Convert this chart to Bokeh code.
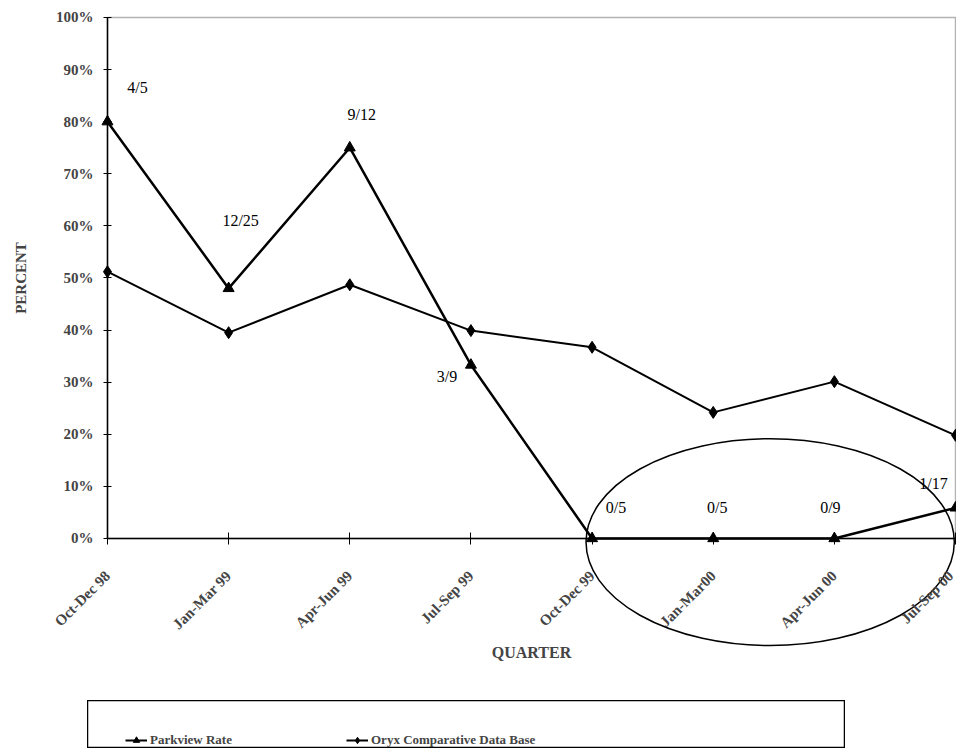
import math
from bokeh.plotting import figure
from bokeh.models import (ColumnDataSource, Range1d, LinearAxis, FixedTicker,
                          NumeralTickFormatter, LabelSet, BoxAnnotation, Legend,
                          LegendItem, Spacer)
from bokeh.layouts import column, row
from bokeh.core.properties import value
from bokeh.embed import file_html
from bokeh.resources import INLINE

# ---------------- data ----------------
quarters = ["Oct-Dec 98", "Jan-Mar 99", "Apr-Jun 99", "Jul-Sep 99",
            "Oct-Dec 99", "Jan-Mar00", "Apr-Jun 00", "Jul-Sep 00"]
quarter_index = list(range(len(quarters)))
parkview_rate = [0.80, 0.48, 0.75, 0.333, 0.0, 0.0, 0.0, 0.0588]
oryx_rate = [0.512, 0.395, 0.487, 0.399, 0.367, 0.242, 0.301, 0.198]
parkview_counts = ["4/5", "12/25", "9/12", "3/9", "0/5", "0/5", "0/9", "1/17"]
percent_ticks = [0.0, 0.1, 0.2, 0.3, 0.4, 0.5, 0.6, 0.7, 0.8, 0.9, 1.0]

# label placement (screen px), kept apart from the data
label_dx = [30, 12, 12, -24, 24, 4, -4, -22]
label_dy = [34, 68, 33, -12, 31, 31, 31, 24]

# highlight ellipse around the last four quarters
ELL_X, ELL_Y, ELL_W, ELL_H = 5.47, -0.007, 3.04, 0.397

SERIF = "Liberation Serif"

# frame covers the whole canvas; axes are pinned at x=0 / y=0
p = figure(width=956, height=700, output_backend="svg", toolbar_location=None,
           x_range=Range1d(-0.883, 7.008), y_range=Range1d(-0.311, 1.0326),
           x_axis_location=None, y_axis_location=None,
           min_border=0, outline_line_color=None,
           background_fill_color="white")
p.grid.visible = False

yaxis = LinearAxis(ticker=FixedTicker(ticks=percent_ticks),
                   formatter=NumeralTickFormatter(format="0%"),
                   bounds=(0, 1), fixed_location=0, axis_label="PERCENT")
yaxis.axis_line_width = 1.5
yaxis.major_tick_in = 4
yaxis.major_tick_out = 4
yaxis.minor_tick_line_color = None
yaxis.major_label_standoff = 10
yaxis.major_label_text_font = SERIF
yaxis.major_label_text_font_style = "bold"
yaxis.major_label_text_font_size = "15px"
yaxis.axis_label_text_font = SERIF
yaxis.axis_label_text_font_style = "bold"
yaxis.axis_label_text_font_size = "15px"
yaxis.axis_label_standoff = 24
p.add_layout(yaxis, "left")

xaxis = LinearAxis(ticker=FixedTicker(ticks=quarter_index),
                   major_label_overrides={i: q for i, q in enumerate(quarters)},
                   bounds=(0, 7), fixed_location=0, axis_label="QUARTER")
xaxis.axis_line_width = 1.5
xaxis.major_tick_in = 6
xaxis.major_tick_out = 6
xaxis.minor_tick_line_color = None
xaxis.major_label_orientation = math.pi / 4
xaxis.major_label_standoff = 29
xaxis.major_label_text_font = SERIF
xaxis.major_label_text_font_style = "bold"
xaxis.major_label_text_font_size = "15px"
xaxis.axis_label_text_font = SERIF
xaxis.axis_label_text_font_style = "bold"
xaxis.axis_label_text_font_size = "16px"
xaxis.axis_label_standoff = 3
p.add_layout(xaxis, "below")

p.add_layout(BoxAnnotation(left=0, right=7, bottom=0, top=1, fill_alpha=0,
                           line_color="black", line_width=1.5))

src = ColumnDataSource(dict(x=quarter_index, park=parkview_rate, oryx=oryx_rate,
                            lab=parkview_counts, dx=label_dx, dy=label_dy))

p.line("x", "oryx", source=src, line_color="black", line_width=2)
p.scatter("x", "oryx", source=src, marker="diamond", size=12, color="black")
p.line("x", "park", source=src, line_color="black", line_width=2.5)
p.scatter("x", "park", source=src, marker="triangle", size=11, color="black")

p.ellipse(x=[ELL_X], y=[ELL_Y], width=ELL_W, height=ELL_H, fill_color=None,
          line_color="black", line_width=1.5)

p.add_layout(LabelSet(x="x", y="park", text="lab", x_offset="dx", y_offset="dy",
                      source=src, text_align="center", text_baseline="middle",
                      text_font=value(SERIF), text_font_size="16px",
                      text_color="black"))

# ---------------- legend box ----------------
lg = figure(width=758, height=48, output_backend="svg", toolbar_location=None,
            x_axis_type=None, y_axis_type=None, min_border=0,
            x_range=Range1d(-20, -19), y_range=Range1d(-20, -19),
            outline_line_color="black", outline_line_width=1.5)
lg.grid.visible = False
r1 = lg.line("x", "park", source=src, line_color="black", line_width=2)
m1 = lg.scatter("x", "park", source=src, marker="triangle", size=10, color="black")
r2 = lg.line("x", "oryx", source=src, line_color="black", line_width=2)
m2 = lg.scatter("x", "oryx", source=src, marker="diamond", size=11, color="black")
legend = Legend(items=[LegendItem(label="Parkview Rate", renderers=[r1, m1]),
                       LegendItem(label="Oryx Comparative Data Base", renderers=[r2, m2])],
                orientation="horizontal", location=(38, 0),
                border_line_color=None, background_fill_alpha=0,
                glyph_width=22, glyph_height=16, label_height=16,
                label_standoff=3, label_width=196, spacing=0,
                padding=2, margin=0,
                label_text_font=SERIF, label_text_font_style="bold",
                label_text_font_size="13px")
lg.add_layout(legend, "center")

layout = column(p, row(Spacer(width=87, height=48), lg))

open("out.html", "w").write(file_html(layout, INLINE))
